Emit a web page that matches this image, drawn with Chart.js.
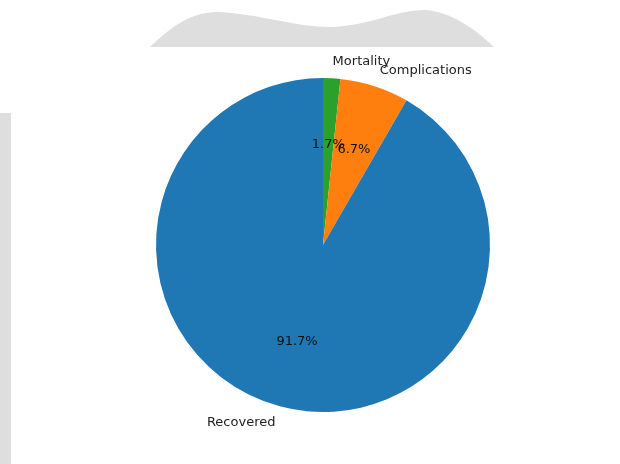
<!DOCTYPE html>
<html>
<head>
<meta charset="utf-8">
<script src="https://cdn.jsdelivr.net/npm/chart.js@4.4.0/dist/chart.umd.min.js"></script>
<style>
  html, body { margin: 0; padding: 0; background: #fff; }
  #wrap { position: relative; width: 620px; height: 464px; }
</style>
</head>
<body>
<div id="wrap"><canvas id="outcomeChart" width="620" height="464"></canvas></div>
<script>
// outcome counts, drawn clockwise from the top (matplotlib order reversed)
const labels = ["Mortality", "Complications", "Recovered"];
const counts = [1, 4, 55];
const colors = ["#2ca02c", "#ff7f0e", "#1f77b4"];

const FONT = "DejaVu Sans, sans-serif";

// grey scan shapes behind the figure
const backdrop = {
  id: "backdrop",
  beforeDraw(chart) {
    const ctx = chart.ctx;
    ctx.save();
    ctx.fillStyle = "#dedede";
    ctx.beginPath();
    ctx.moveTo(150, 47);
    ctx.bezierCurveTo(170, 28, 190, 12, 218, 12);
    ctx.bezierCurveTo(260, 14, 295, 27, 330, 27);
    ctx.bezierCurveTo(370, 26, 395, 10, 425, 10);
    ctx.bezierCurveTo(455, 12, 480, 34, 494, 47);
    ctx.closePath();
    ctx.fill();
    ctx.fillRect(0, 113, 11, 351);
    ctx.restore();
  }
};

// labels outside and percentages inside, placed like matplotlib's pie()
const pieText = {
  id: "pieText",
  afterDatasetsDraw(chart) {
    const ctx = chart.ctx;
    const arcs = chart.getDatasetMeta(0).data;
    const total = counts.reduce((a, b) => a + b, 0);
    ctx.save();
    ctx.font = "13px " + FONT;
    ctx.textBaseline = "middle";
    arcs.forEach((arc, i) => {
      const mid = (arc.startAngle + arc.endAngle) / 2;
      const r = arc.outerRadius;
      const lx = arc.x + Math.cos(mid) * r * 1.1;
      const ly = arc.y + Math.sin(mid) * r * 1.1;
      ctx.fillStyle = "#222";
      ctx.textAlign = lx >= arc.x ? "left" : "right";
      ctx.fillText(labels[i], lx, ly);
      const px = arc.x + Math.cos(mid) * r * 0.6;
      const py = arc.y + Math.sin(mid) * r * 0.6;
      ctx.textAlign = "center";
      ctx.fillStyle = "#111";
      ctx.fillText((counts[i] / total * 100).toFixed(1) + "%", px, py);
    });
    ctx.restore();
  }
};

new Chart(document.getElementById("outcomeChart").getContext("2d"), {
  type: "pie",
  data: {
    labels: labels,
    datasets: [{
      data: counts,
      backgroundColor: colors,
      borderWidth: 0,
      hoverOffset: 0
    }]
  },
  options: {
    responsive: false,
    animation: false,
    rotation: 0,
    layout: { padding: { left: 156, right: 130, top: 78, bottom: 52 } },
    plugins: {
      legend: { display: false },
      tooltip: { enabled: false }
    }
  },
  plugins: [backdrop, pieText]
});
</script>
</body>
</html>
